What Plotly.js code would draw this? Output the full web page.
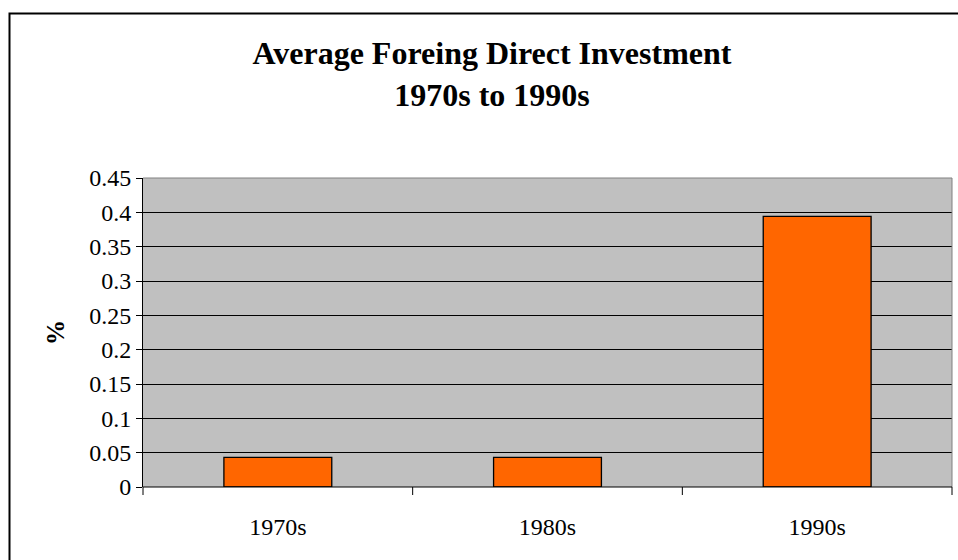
<!DOCTYPE html>
<html>
<head>
<meta charset="utf-8">
<script src="https://cdn.plot.ly/plotly-3.0.1.min.js"></script>
<style>html,body{margin:0;padding:0;background:#fff;}#chart{width:958px;height:560px;}</style>
</head>
<body>
<div id="chart"></div>
<script>
const categories = ["1970s", "1980s", "1990s"];
const fdiValues = [0.043, 0.043, 0.394];
const yTickVals = [0, 0.05, 0.1, 0.15, 0.2, 0.25, 0.3, 0.35, 0.4, 0.45];
const yTickText = ["0", "0.05", "0.1", "0.15", "0.2", "0.25", "0.3", "0.35", "0.4", "0.45"];
const titleText = "<b>Average Foreing Direct Investment<br>1970s to 1990s</b>";
const yTitle = "<b>%</b>";

const serif = "'Liberation Serif', 'Times New Roman', serif";
const L = 143, R = 6, T = 178, B = 73;
const W = 958, H = 560;
const pw = W - L - R, ph = H - T - B;
const px = v => (v - L) / pw;
const py = v => (H - B - v) / ph;

const trace = {
  type: "bar",
  x: categories,
  y: fdiValues,
  marker: {color: "#FF6600", line: {color: "#000", width: 1.3}},
  hoverinfo: "skip"
};

const layout = {
  width: W, height: H,
  margin: {l: L, r: R, t: T, b: B},
  paper_bgcolor: "#fff",
  plot_bgcolor: "#C0C0C0",
  bargap: 0.6,
  showlegend: false,
  font: {family: serif, color: "#000", size: 24},
  title: {
    text: titleText,
    font: {family: serif, size: 32, color: "#000"},
    x: px(492), xref: "paper", xanchor: "center",
    y: 1 - 64 / H, yanchor: "top", yref: "container"
  },
  xaxis: {
    type: "category",
    showgrid: false,
    showline: false,
    ticks: "",
    ticklabelstandoff: 23,
    tickfont: {family: serif, size: 24},
    fixedrange: true
  },
  yaxis: {
    range: [0, 0.45],
    tickvals: yTickVals,
    ticktext: yTickText,
    showgrid: true,
    gridcolor: "#000",
    gridwidth: 1,
    zeroline: false,
    showline: true,
    linecolor: "#000",
    linewidth: 1,
    ticks: "outside",
    ticklen: 6,
    tickcolor: "#000",
    tickfont: {family: serif, size: 24},
    title: {text: yTitle, font: {family: serif, size: 25}, standoff: 17},
    fixedrange: true
  },
  shapes: [
    {type: "line", xref: "paper", yref: "paper", x0: 1, x1: 1, y0: 0, y1: 1,
     line: {color: "#808080", width: 1}},
    {type: "line", xref: "paper", yref: "paper", x0: 0, x1: 1, y0: 1, y1: 1,
     line: {color: "#808080", width: 1}},
    {type: "line", xref: "paper", yref: "paper", x0: 0, x1: 1, y0: 0, y1: 0,
     line: {color: "#000", width: 1}},
    {type: "line", xref: "paper", yref: "paper", x0: 0, x1: 0, y0: 0, y1: py(H - B + 8),
     line: {color: "#000", width: 1}},
    {type: "line", xref: "paper", yref: "paper", x0: 1/3, x1: 1/3, y0: 0, y1: py(H - B + 8),
     line: {color: "#000", width: 1}},
    {type: "line", xref: "paper", yref: "paper", x0: 2/3, x1: 2/3, y0: 0, y1: py(H - B + 8),
     line: {color: "#000", width: 1}},
    {type: "line", xref: "paper", yref: "paper", x0: 1, x1: 1, y0: 0, y1: py(H - B + 8),
     line: {color: "#000", width: 1}},
    {type: "rect", xref: "paper", yref: "paper", x0: px(9.5), x1: px(980), y0: py(13.5), y1: py(600),
     line: {color: "#000", width: 2}, layer: "below"}
  ]
};

Plotly.newPlot("chart", [trace], layout, {displayModeBar: false, staticPlot: true});
</script>
</body>
</html>
